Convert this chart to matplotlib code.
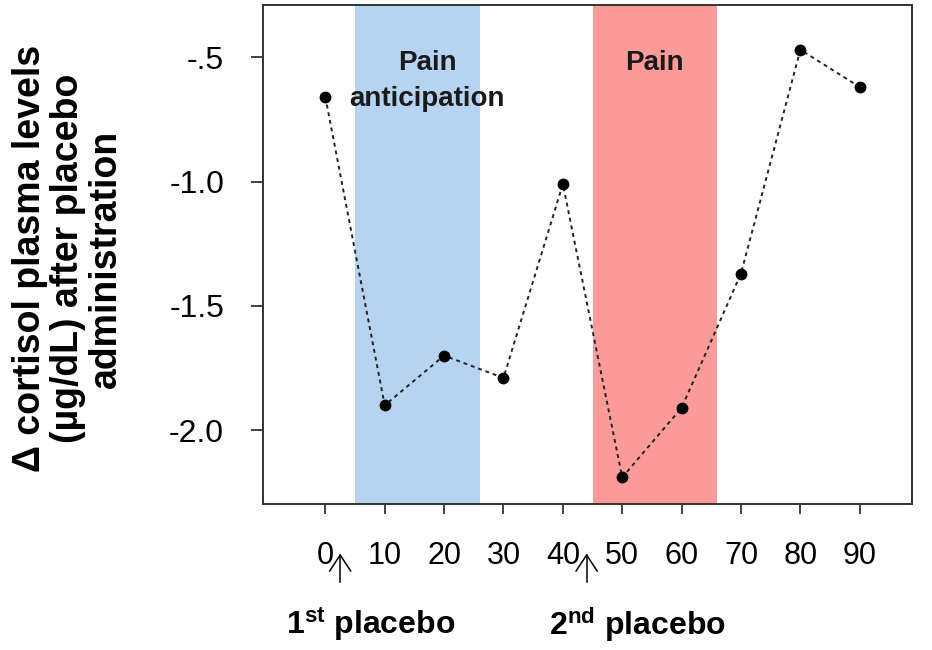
import matplotlib
matplotlib.use("Agg")
import matplotlib.pyplot as plt

# time after placebo (min) and change in cortisol
minutes = [0, 10, 20, 30, 40, 50, 60, 70, 80, 90]
delta_cortisol = [-0.66, -1.90, -1.70, -1.79, -1.01, -2.19, -1.91, -1.37, -0.47, -0.62]

anticipation_span = (5, 26)
pain_span = (45, 66)
placebo_times = [2.5, 44]
placebo_labels = [r"$\mathbf{1^{st}}$ placebo", r"$\mathbf{2^{nd}}$ placebo"]
yticks = [-0.5, -1.0, -1.5, -2.0]
ytick_labels = ["-.5", "-1.0", "-1.5", "-2.0"]

plt.rcParams["font.family"] = ["Liberation Sans", "DejaVu Sans"]
plt.rcParams["mathtext.fontset"] = "custom"
plt.rcParams["mathtext.rm"] = "Liberation Sans"
plt.rcParams["mathtext.bf"] = "Liberation Sans:bold"

fig = plt.figure(figsize=(9.32, 6.5), dpi=100)
ax = fig.add_axes([263 / 932, 1 - 504 / 650, (912 - 263) / 932, (504 - 5) / 650])

ax.axvspan(*anticipation_span, color="#b6d3f1", lw=0, zorder=0)
ax.axvspan(*pain_span, color="#fd9a9a", lw=0, zorder=0)

ax.plot(minutes, delta_cortisol, ls=(0, (2, 2)), color="#222", lw=1.4, zorder=2)
ax.plot(minutes, delta_cortisol, "o", color="black", ms=7.5, zorder=3)

ax.text(17.2, -0.525, "Pain", ha="center", va="center", fontsize=20, fontweight="bold", color="#1a1a1a")
ax.text(17.2, -0.67, "anticipation", ha="center", va="center", fontsize=20, fontweight="bold", color="#1a1a1a")
ax.text(55.4, -0.525, "Pain", ha="center", va="center", fontsize=20, fontweight="bold", color="#1a1a1a")

ax.set_xlim(-10.5, 98.8)
ax.set_ylim(-2.297, -0.29)
ax.set_xticks(minutes)
ax.set_xticklabels([str(m) for m in minutes], fontsize=22)
ax.set_yticks(yticks)
ax.set_yticklabels(ytick_labels, fontsize=23)
ax.tick_params(axis="x", length=7, width=1.3, pad=20, color="#333")
ax.tick_params(axis="y", length=9, width=1.3, pad=19, color="#333")
for s in ax.spines.values():
    s.set_linewidth(1.4)
    s.set_color("#333")

fig.text(0.073, 0.602, "\u0394 cortisol plasma levels\n(\u00b5g/dL) after placebo\nadministration",
         rotation=90, ha="center", va="center", fontsize=27, fontweight="bold",
         linespacing=1.08)

# placebo arrows and captions
for t, lab, cx in zip(placebo_times, placebo_labels, [371, 637]):
    xfig = ax.transData.transform((t, 0))[0] / 932
    y0, y1 = 1 - 582 / 650, 1 - 555 / 650
    fig.add_artist(plt.Line2D([xfig, xfig], [y0, y1], color="black", lw=1.1))
    fig.add_artist(plt.Line2D([xfig - 10.5 / 932, xfig, xfig + 10.5 / 932],
                              [y1 - 16 / 650, y1, y1 - 16 / 650], color="black", lw=1.1))
    fig.text(cx / 932, 1 - 625 / 650, lab, ha="center", va="center", fontsize=23, fontweight="bold")

fig.savefig("out.png", dpi=100)
